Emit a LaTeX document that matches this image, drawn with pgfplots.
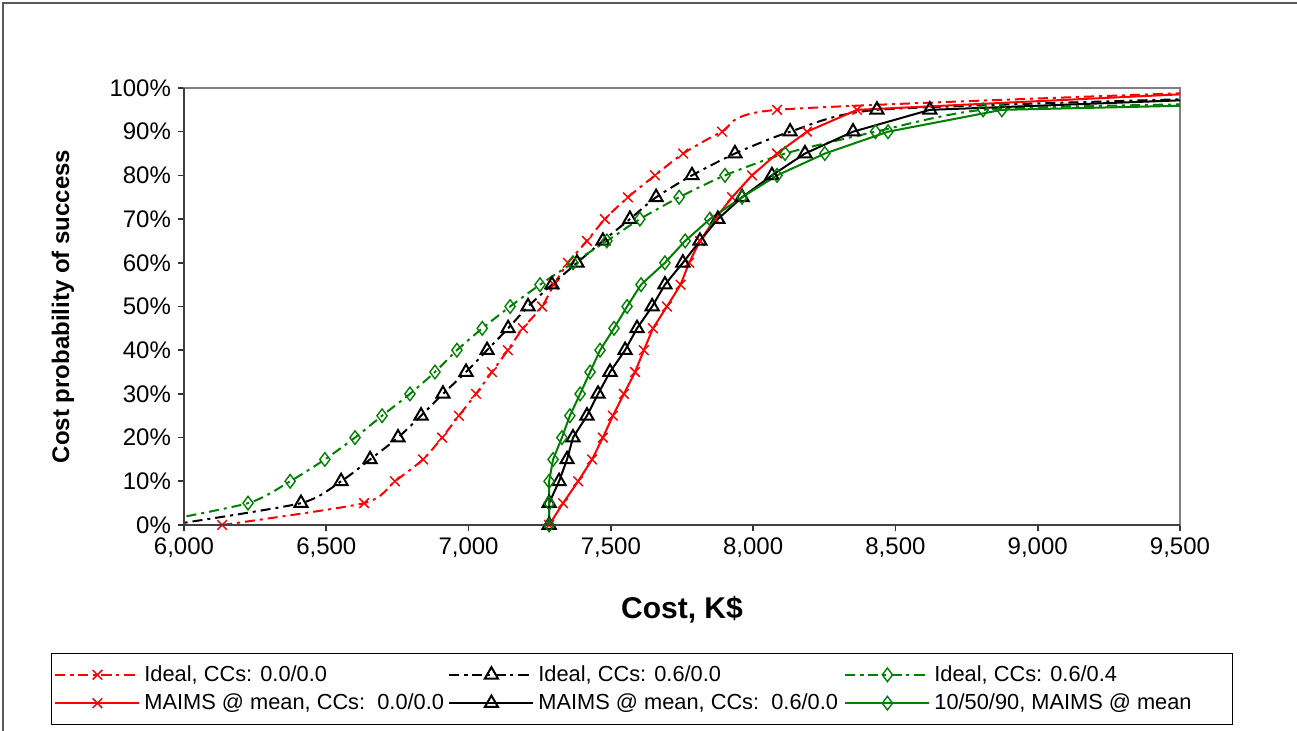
\documentclass[border=0pt]{standalone}
\usepackage{fontspec}
\setmainfont{Liberation Sans}
\usepackage{pgfplots}
\pgfplotsset{compat=1.18}
\usepackage{pgfplotstable}
\definecolor{xlgreen}{RGB}{0,128,0}
\definecolor{xlred}{RGB}{255,0,0}

% Ideal, CCs: 0.0/0.0
\pgfplotstableread{
x y
6134 0
6633 5
6741 10
6840 15
6907 20
6966 25
7026 30
7082 35
7138 40
7191 45
7258 50
7300 55
7349 60
7416 65
7479 70
7560 75
7655 80
7754 85
7891 90
8084 95
9550 98.9
}\rdash
% Ideal, CCs: 0.6/0.0
\pgfplotstableread{
x y
5950 0
6411 5
6552 10
6654 15
6752 20
6833 25
6910 30
6991 35
7065 40
7139 45
7209 50
7293 55
7381 60
7472 65
7567 70
7659 75
7785 80
7936 85
8130 90
8435 95
9550 97.5
}\kdash
% Ideal, CCs: 0.6/0.4
\pgfplotstableread{
x y
5850 0
6225 5
6373 10
6495 15
6601 20
6696 25
6794 30
6882 35
6959 40
7048 45
7146 50
7251 55
7367 60
7486 65
7602 70
7740 75
7901 80
8112 85
8430 90
8808 95
9550 96.3
}\gdash
% MAIMS @ mean, CCs: 0.0/0.0
\pgfplotstableread{
x y
7283 0
7332 5
7385 10
7434 15
7472 20
7507 25
7546 30
7585 35
7616 40
7648 45
7697 50
7745 55
7775 60
7813 65
7866 70
7926 75
7996 80
8084 85
8189 90
8365 95
9550 98.7
}\rsolid
% MAIMS @ mean, CCs: 0.6/0.0
\pgfplotstableread{
x y
7283 0
7283 5
7318 10
7346 15
7367 20
7416 25
7455 30
7497 35
7550 40
7592 45
7645 50
7690 55
7753 60
7813 65
7876 70
7961 75
8066 80
8182 85
8351 90
8621 95
9550 97.3
}\ksolid
% 10/50/90, MAIMS @ mean
\pgfplotstableread{
x y
7283 0
7283 5
7283 10
7297 15
7328 20
7356 25
7392 30
7427 35
7462 40
7511 45
7557 50
7606 55
7690 60
7761 65
7848 70
7961 75
8084 80
8252 85
8474 90
8874 95
9550 96.0
}\gsolid

\begin{document}
\begin{tikzpicture}
\useasboundingbox (0,0) rectangle (648.5pt,-365.5pt);
\draw[gray!70!black, line width=1pt] (1.5pt,-366pt) -- (1.5pt,-1.5pt) -- (649pt,-1.5pt);
\begin{axis}[
  at={(92pt,-262.5pt)}, anchor=south west,
  width=498pt, height=218.5pt, scale only axis,
  xmin=6000, xmax=9500, ymin=0, ymax=100,
  xtick={6000,6500,...,9500}, ytick={0,10,...,100},
  /pgf/number format/assume math mode=true,
  /pgf/number format/1000 sep={,},
  yticklabel={\pgfmathprintnumber{\tick}\%},
  tick label style={font=\fontsize{12}{14}\selectfont},
  tick align=outside, xtick pos=left, ytick pos=left,
  major tick length=3pt,
  major tick style={black!80, line width=0.8pt},
  axis line style={draw=gray, line width=1pt},
  xlabel={Cost, K\$},
  ylabel={Cost probability of success},
  xlabel style={font=\fontsize{15}{18}\selectfont\bfseries, at={(axis description cs:0.5,-0.1945)}, anchor=center},
  ylabel style={font=\fontsize{12}{14}\selectfont\bfseries, at={(axis description cs:-0.1215,0.5)}, anchor=center},
  legend columns=3,
  legend style={at={(-0.1335,-0.2929)}, anchor=north west, draw=black, fill=white,
    inner xsep=1.5pt, inner ysep=4pt, font=\fontsize{10.9}{13}\selectfont,
    cells={anchor=west}, nodes={inner sep=2pt}, row sep=0.8pt},
  legend image code/.code={\draw[mark repeat=2,mark phase=2,#1] plot coordinates {(0pt,0pt) (21pt,0pt) (42pt,0pt)};},
  after end axis/.code={\draw[black!75, line width=1.2pt] (rel axis cs:0,1) -- (rel axis cs:0,0) -- (rel axis cs:1,0);},
]
\addplot[xlred, line width=1pt, dash pattern=on 5pt off 2.5pt on 1.5pt off 2.5pt, smooth, tension=0.4,
  mark=x, mark size=3.4pt, mark options={solid, line width=0.75pt}] table {\rdash};
\addlegendentry{\makebox[150pt][l]{Ideal, CCs: 0.0/0.0}}
\addplot[black, line width=1pt, dash pattern=on 5pt off 2.5pt on 1.5pt off 2.5pt, smooth, tension=0.4,
  mark=triangle, mark size=3.8pt, mark options={solid, fill=white, line width=1pt}] table {\kdash};
\addlegendentry{\makebox[151pt][l]{Ideal, CCs: 0.6/0.0}}
\addplot[xlgreen, line width=1pt, dash pattern=on 5pt off 2.5pt on 1.5pt off 2.5pt, smooth, tension=0.4,
  mark=diamond, mark size=3.4pt, mark options={solid, fill=white, line width=0.7pt}] table {\gdash};
\addlegendentry{\makebox[145.5pt][l]{Ideal, CCs: 0.6/0.4}}
\addplot[xlred, line width=1pt, mark=x, mark size=3.4pt, mark options={solid, line width=0.75pt}] table {\rsolid};
\addlegendentry{\makebox[150pt][l]{MAIMS @ mean, CCs:\ \ 0.0/0.0}}
\addplot[black, line width=1pt, mark=triangle, mark size=3.8pt, mark options={solid, fill=white, line width=1pt}] table {\ksolid};
\addlegendentry{\makebox[151pt][l]{MAIMS @ mean, CCs:\ \ 0.6/0.0}}
\addplot[xlgreen, line width=1pt, mark=diamond, mark size=3.4pt, mark options={solid, fill=white, line width=0.7pt}] table {\gsolid};
\addlegendentry{\makebox[145.5pt][l]{10/50/90, MAIMS @ mean}}
\end{axis}
\end{tikzpicture}
\end{document}
